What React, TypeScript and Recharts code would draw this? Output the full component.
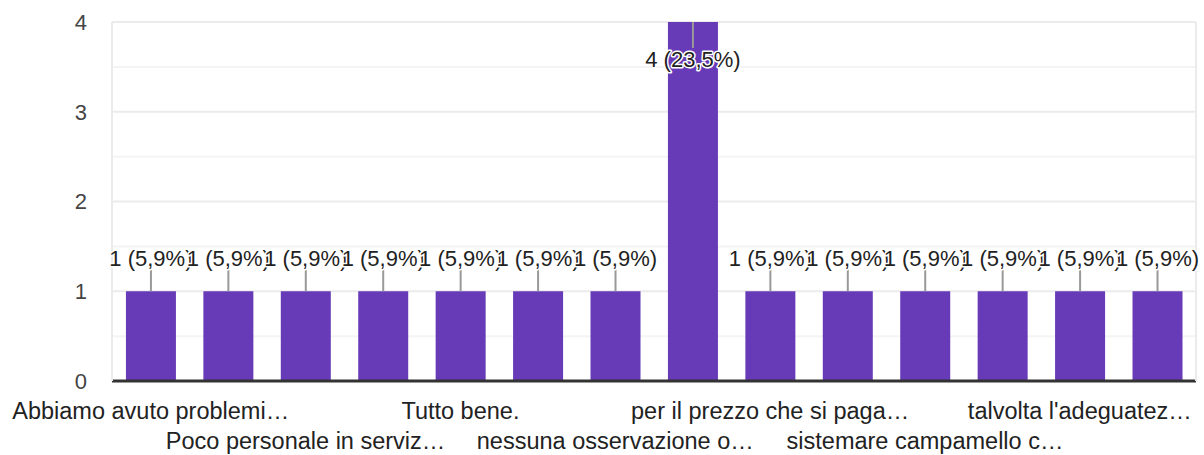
import { BarChart, Bar, XAxis, YAxis, CartesianGrid, LabelList, ReferenceLine } from 'recharts';

const categories = [
  'Abbiamo avuto problemi…',
  'Nessun problema',
  'Poco personale in serviz…',
  'Servizio ottimo',
  'Tutto bene.',
  'Va tutto bene',
  'nessuna osservazione o…',
  'niente',
  'per il prezzo che si paga…',
  'pulizia dei bagni',
  'sistemare campamello c…',
  'sono soddisfatto',
  'talvolta l\'adeguatez…',
  'tutto ok',
];
const counts = [1, 1, 1, 1, 1, 1, 1, 4, 1, 1, 1, 1, 1, 1];
const yTicks = [0, 1, 2, 3, 4];
const minorLines = [0.5, 1.5, 2.5, 3.5];

const total = counts.reduce((a, b) => a + b, 0);
const data = categories.map((name, i) => ({ name, value: counts[i] }));

const FONT = '"Liberation Sans", Arial, sans-serif';
const FS = 22;

function pct(v: number) {
  return ((v / total) * 100).toFixed(1).replace('.', ',') + '%';
}

// only every other category gets a label, alternating on two rows
function XTick(props: any) {
  const { x, y, payload, index } = props;
  if (index % 2 !== 0) return null;
  const row = (index / 2) % 2;
  return (
    <text x={x} y={y + (row === 0 ? 36 : 66)} textAnchor="middle" fontSize={23.5} fill="#222" fontFamily={FONT}>
      {payload.value}
    </text>
  );
}

function BarLabel(props: any) {
  const { x, y, width, value } = props;
  const cx = x + width / 2;
  const inside = value >= 4;
  const text = `${value} (${pct(value)})`;
  const textProps = {
    textAnchor: 'middle' as const,
    fontSize: FS,
    fill: '#222',
    fontFamily: FONT,
    stroke: '#fff',
    strokeWidth: 3,
    paintOrder: 'stroke',
    strokeLinejoin: 'round' as const,
  };
  if (inside) {
    return (
      <g>
        <line x1={cx} x2={cx} y1={y} y2={y + 26} stroke="#999" strokeWidth={2} />
        <text x={cx} y={y + 45} {...textProps}>{text}</text>
      </g>
    );
  }
  return (
    <g>
      <line x1={cx} x2={cx} y1={y} y2={y - 22} stroke="#999" strokeWidth={2} />
      <text x={cx} y={y - 25} {...textProps}>{text}</text>
    </g>
  );
}

export default function App() {
  return (
    <div style={{ width: 1204, height: 455 }}>
      <style>{'body{margin:0}'}</style>
      <BarChart width={1204} height={455} data={data} margin={{ top: 22, right: 0, left: 0, bottom: 0 }} barCategoryGap="18%">
        <CartesianGrid vertical={false} horizontalValues={minorLines} stroke="#f4f4f4" strokeWidth={2} />
        <CartesianGrid vertical={false} horizontalValues={yTicks} stroke="#ebebeb" strokeWidth={2} />
        <XAxis
          dataKey="name"
          interval={0}
          height={74}
          tick={<XTick />}
          tickLine={false}
          tickSize={0}
          axisLine={false}
        />
        <YAxis
          domain={[0, 4]}
          ticks={yTicks}
          width={112}
          tickLine={false}
          tickSize={0}
          tickMargin={25}
          axisLine={{ stroke: '#ebebeb', strokeWidth: 2 }}
          tick={{ fontSize: FS, fill: '#444', fontFamily: FONT }}
        />
        <YAxis
          yAxisId="right"
          orientation="right"
          width={8}
          tick={false}
          tickLine={false}
          axisLine={{ stroke: '#ebebeb', strokeWidth: 2 }}
        />
        <Bar dataKey="value" fill="#673ab7" isAnimationActive={false}>
          <LabelList dataKey="value" content={<BarLabel />} />
        </Bar>
        <ReferenceLine y={0} stroke="#333" strokeWidth={3} />
      </BarChart>
    </div>
  );
}
